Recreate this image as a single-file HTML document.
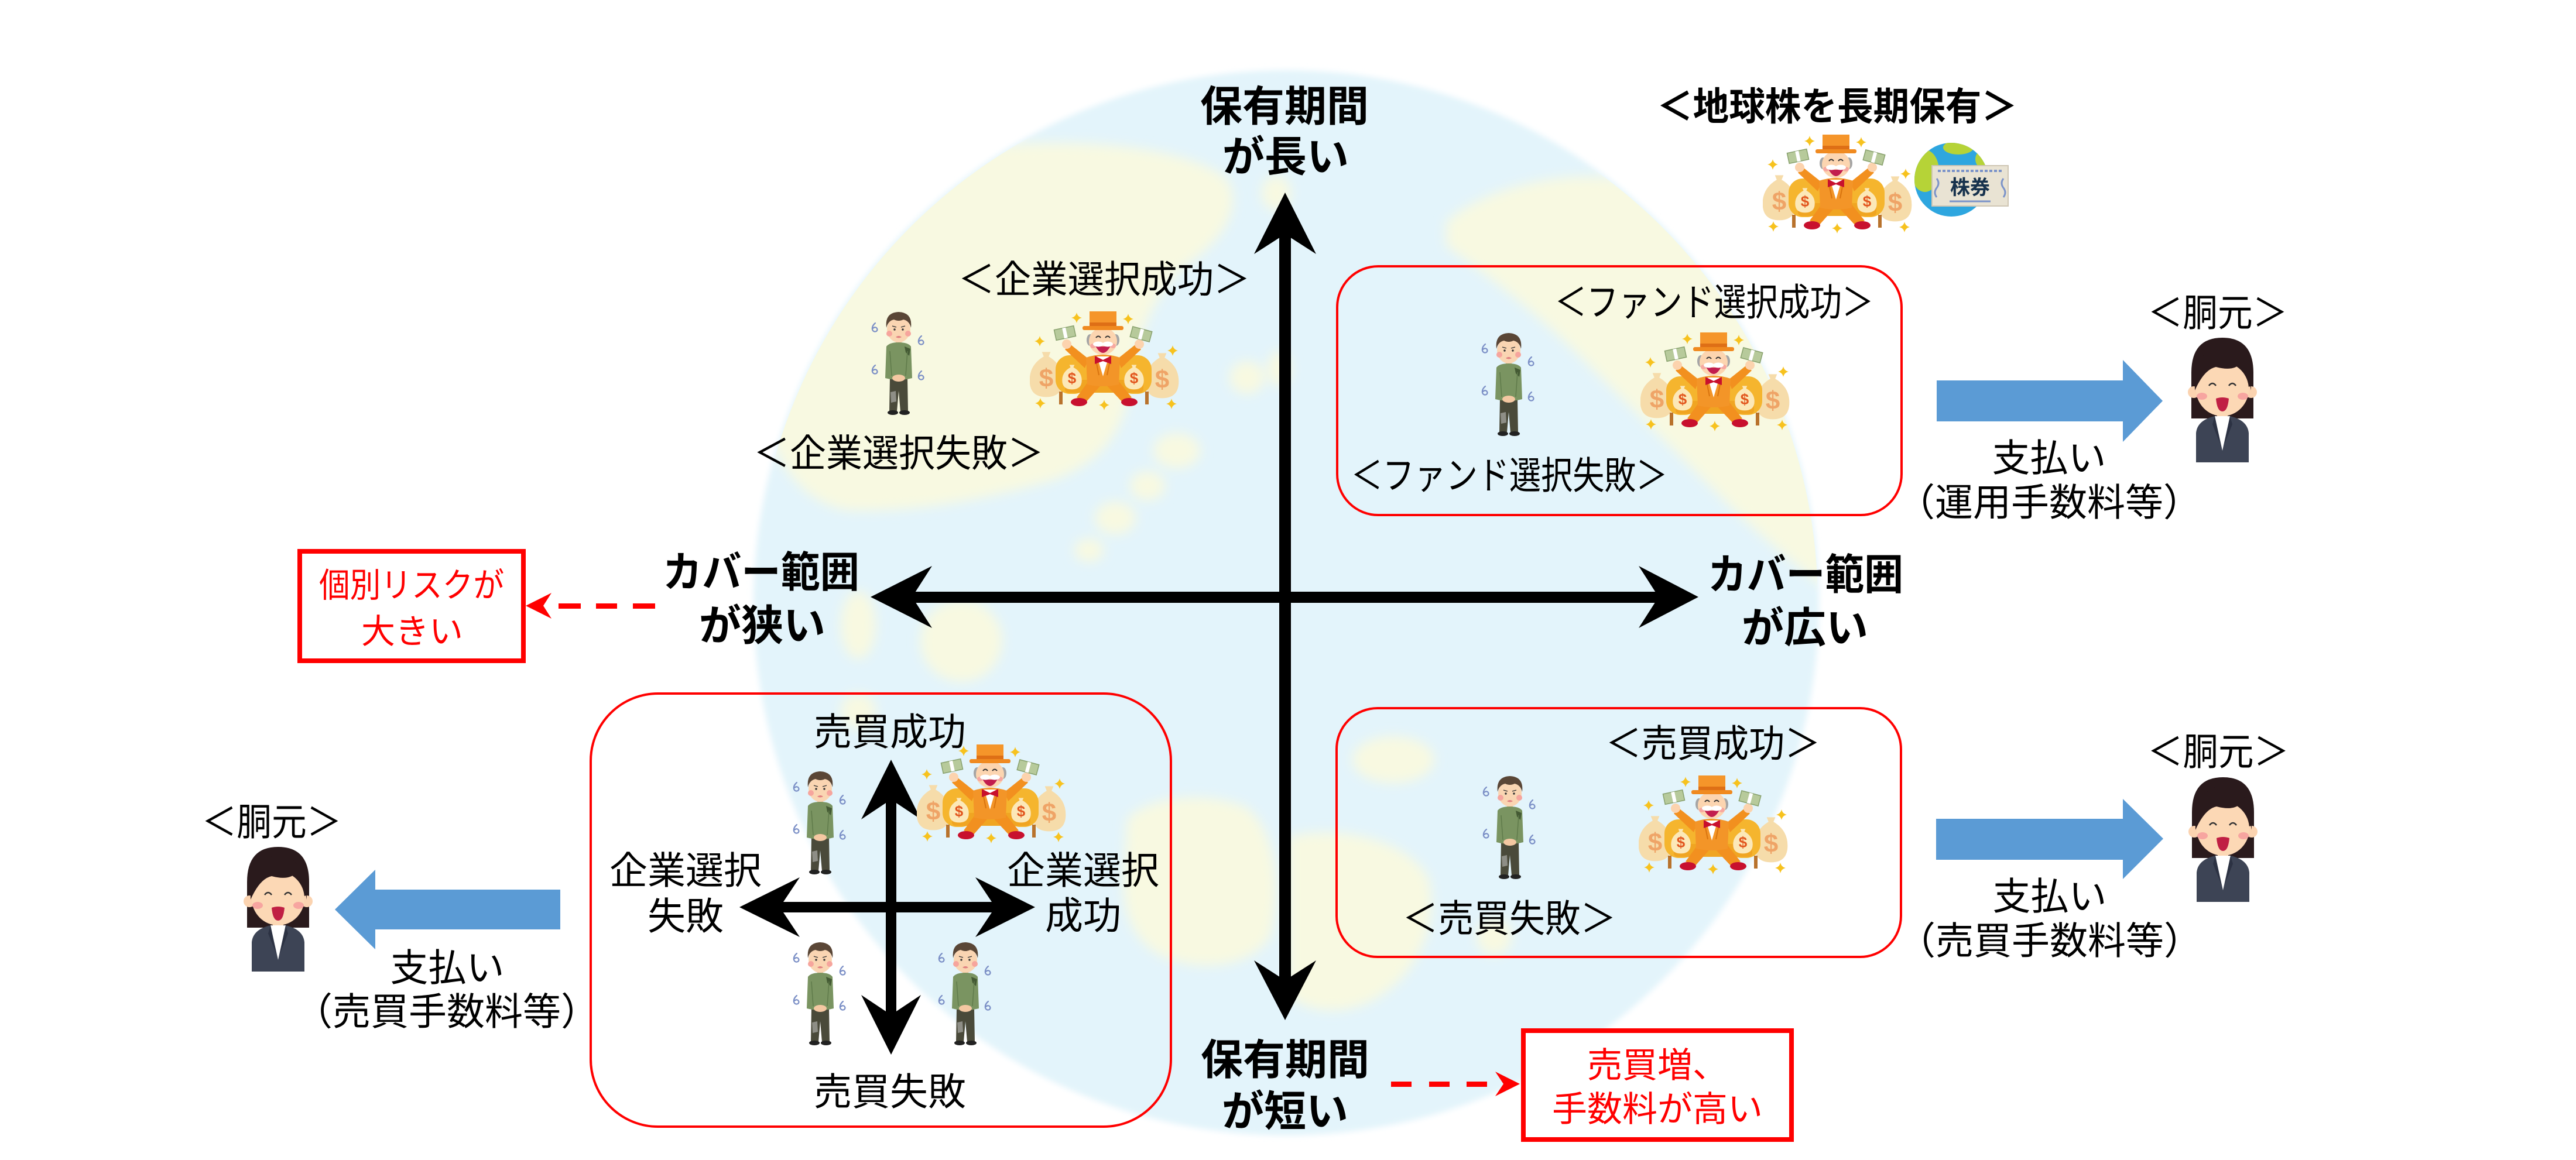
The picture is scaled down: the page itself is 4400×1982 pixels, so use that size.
<!DOCTYPE html>
<html><head><meta charset="utf-8"><style>
html,body{margin:0;padding:0;background:#fff;}
svg{display:block;}
.b{font-family:"Liberation Sans","Noto Sans CJK JP",sans-serif;font-weight:700;}
.r{font-family:"Liberation Sans","Noto Sans CJK JP",sans-serif;font-weight:400;}
</style></head><body>
<svg xmlns="http://www.w3.org/2000/svg" xmlns:xlink="http://www.w3.org/1999/xlink" width="4400" height="1982" viewBox="0 0 4400 1982">
<defs>
  <filter id="soft" x="-5%" y="-5%" width="110%" height="110%"><feGaussianBlur stdDeviation="5"/></filter>
  <filter id="soft2" x="-10%" y="-10%" width="120%" height="120%"><feGaussianBlur stdDeviation="10"/></filter>
  <clipPath id="gclip"><circle cx="2197" cy="1030" r="908"/></clipPath>
  <clipPath id="iclip"><circle cx="3333" cy="307" r="63"/></clipPath>
  <path id="spk" d="M0,-9 Q1.6,-1.6 9,0 Q1.6,1.6 0,9 Q-1.6,1.6 -9,0 Q-1.6,-1.6 0,-9 Z" fill="#f7c21e"/>
  <path id="bag" d="M-7,-36 L7,-36 L4,-29 Q27,-16 27,8 Q27,34 0,34 Q-27,34 -27,8 Q-27,-16 -4,-29 Z"/>
  <path id="swl" d="M5,0 Q-1,5 0,11 Q2,16 7,14 Q10,11 7,8 Q4,6 1,9" fill="none" stroke="#7b8fc6" stroke-width="2.2" stroke-linecap="round"/>

  <symbol id="rich" viewBox="0 0 255 170">
    <g fill="#f6dcaa">
      <use href="#bag" transform="translate(28,110) scale(1.05,1.1)"/>
      <use href="#bag" transform="translate(226,112) scale(1.05,1.1)"/>
    </g>
    <text x="28" y="130" font-size="44" font-weight="700" fill="#efa467" text-anchor="middle" font-family="Liberation Sans, sans-serif">$</text>
    <text x="226" y="132" font-size="44" font-weight="700" fill="#efa467" text-anchor="middle" font-family="Liberation Sans, sans-serif">$</text>
    <rect x="44" y="76" width="56" height="66" rx="24" fill="#f5b52e"/>
    <rect x="152" y="76" width="56" height="66" rx="24" fill="#f5b52e"/>
    <rect x="60" y="118" width="134" height="22" rx="6" fill="#f0a522"/>
    <rect x="50" y="138" width="6" height="22" fill="#b8722c"/>
    <rect x="197" y="138" width="6" height="22" fill="#b8722c"/>
    <use href="#bag" transform="translate(72,114) scale(0.62,0.6)" fill="#fce8b8"/>
    <use href="#bag" transform="translate(178,114) scale(0.62,0.6)" fill="#fce8b8"/>
    <text x="72" y="124" font-size="26" font-weight="700" fill="#e2561e" text-anchor="middle" font-family="Liberation Sans, sans-serif">$</text>
    <text x="178" y="124" font-size="26" font-weight="700" fill="#e2561e" text-anchor="middle" font-family="Liberation Sans, sans-serif">$</text>
    <path d="M102,118 L126,122 L96,156 L80,148 Z" fill="#f2901f"/>
    <path d="M126,122 L150,118 L174,148 L158,156 Z" fill="#f2901f"/>
    <ellipse cx="84" cy="156" rx="14" ry="7" fill="#c8102e"/>
    <ellipse cx="170" cy="156" rx="14" ry="7" fill="#c8102e"/>
    <path d="M100,82 L70,58 L60,66 L94,98 Z" fill="#f2901f"/>
    <path d="M150,82 L180,58 L190,66 L156,98 Z" fill="#f2901f"/>
    <path d="M96,80 Q125,70 154,80 L152,126 Q125,132 98,126 Z" fill="#f39528"/>
    <path d="M112,80 L118,110 M138,80 L132,110" stroke="#d9740f" stroke-width="2" fill="none"/>
    <path d="M115,78 L135,78 L125,112 Z" fill="#fff"/>
    <path d="M111,77 L125,84 L139,77 L139,91 L125,86 L111,91 Z" fill="#c8102e"/>
    <circle cx="63" cy="57" r="8" fill="#fcd3ae"/>
    <circle cx="187" cy="57" r="8" fill="#fcd3ae"/>
    <g transform="rotate(-12 60 38)"><rect x="43" y="29" width="34" height="18" fill="#b7ca9b" stroke="#87a06c" stroke-width="1.5"/><rect x="57" y="29" width="6" height="18" fill="#fff"/></g>
    <g transform="rotate(15 190 40)"><rect x="173" y="31" width="34" height="18" fill="#b7ca9b" stroke="#87a06c" stroke-width="1.5"/><rect x="187" y="31" width="6" height="18" fill="#fff"/></g>
    <ellipse cx="103" cy="50" rx="6" ry="10" fill="#a5a5a5"/>
    <ellipse cx="147" cy="50" rx="6" ry="10" fill="#a5a5a5"/>
    <ellipse cx="125" cy="52" rx="24" ry="23" fill="#fcd5b0"/>
    <ellipse cx="108" cy="60" rx="5" ry="4" fill="#f7a8a0"/>
    <ellipse cx="142" cy="60" rx="5" ry="4" fill="#f7a8a0"/>
    <path d="M113,46 Q117,41 121,46 M129,46 Q133,41 137,46" stroke="#333" stroke-width="2" fill="none"/>
    <path d="M111,58 Q125,86 139,58 Q125,64 111,58 Z" fill="#c21d4e"/>
    <ellipse cx="117" cy="57" rx="9" ry="4.5" fill="#fff"/>
    <ellipse cx="133" cy="57" rx="9" ry="4.5" fill="#fff"/>
    <rect x="102" y="1" width="46" height="27" fill="#f5952a"/>
    <rect x="102" y="20" width="46" height="6" fill="#de6f16"/>
    <rect x="90" y="26" width="70" height="7" rx="3" fill="#f08a20"/>
    <use href="#spk" x="80" y="12"/>
    <use href="#spk" x="168" y="14"/>
    <use href="#spk" x="17" y="52"/>
    <use href="#spk" x="244" y="68"/>
    <use href="#spk" x="18" y="158"/>
    <use href="#spk" x="127" y="161"/>
    <use href="#spk" x="242" y="159"/>
  </symbol>

  <symbol id="sad" viewBox="0 0 95 180">
    <use href="#swl" x="3" y="22"/>
    <use href="#swl" x="82" y="44"/>
    <use href="#swl" x="3" y="94"/>
    <use href="#swl" x="82" y="104"/>
    <path d="M33,116 L63,116 L64,173 L51,173 L48,138 L45,173 L32,173 Z" fill="#4a4a3a"/>
    <path d="M34,140 L43,138 L44,156 L35,158 Z" fill="#8e8e86"/>
    <ellipse cx="38" cy="175" rx="9" ry="4" fill="#222"/>
    <ellipse cx="58" cy="175" rx="9" ry="4" fill="#222"/>
    <rect x="43" y="50" width="10" height="8" fill="#f4c8a2"/>
    <path d="M27,62 Q32,55 48,55 Q64,55 69,62 L71,116 Q48,122 25,116 Z" fill="#7a9461"/>
    <path d="M58,62 L68,66 L66,78 L60,72 Z" fill="#445a34"/>
    <path d="M33,70 L36,112 M63,70 L60,112" stroke="#5f7a4a" stroke-width="1.5" fill="none"/>
    <ellipse cx="48" cy="116" rx="11" ry="6" fill="#f4c8a2"/>
    <ellipse cx="48" cy="33" rx="20" ry="22" fill="#fad5b2"/>
    <path d="M27,30 Q24,4 48,3 Q72,4 69,30 Q66,18 56,16 Q48,20 40,16 Q30,18 27,30 Z" fill="#5a4636"/>
    <circle cx="32" cy="40" r="5" fill="#f6a59d"/>
    <circle cx="64" cy="40" r="5" fill="#f6a59d"/>
    <circle cx="41" cy="33" r="1.7" fill="#333"/>
    <circle cx="55" cy="33" r="1.7" fill="#333"/>
    <path d="M37,27 L44,29 M59,27 L52,29" stroke="#333" stroke-width="1.4"/>
    <path d="M43,46 Q48,42 53,46 Q48,49 43,46 Z" fill="#e08080"/>
  </symbol>

  <symbol id="woman" viewBox="0 0 122 215">
    <path d="M8,140 L8,62 Q8,2 61,2 Q114,2 114,62 L114,140 Z" fill="#2a1a1c"/>
    <path d="M16,215 L16,165 Q18,143 48,136 L61,150 L74,136 Q104,143 106,165 L106,215 Z" fill="#3d4455"/>
    <rect x="52" y="124" width="18" height="16" fill="#f7cba6"/>
    <path d="M48,136 L74,136 L61,195 Z" fill="#fff"/>
    <path d="M48,136 L58,185 L44,150 Z M74,136 L64,185 L78,150 Z" fill="#2c3243"/>
    <circle cx="12" cy="95" r="10" fill="#fbd3b0"/>
    <circle cx="110" cy="95" r="10" fill="#fbd3b0"/>
    <ellipse cx="61" cy="90" rx="45" ry="46" fill="#fcd8b5"/>
    <path d="M14,92 Q12,22 61,16 Q110,20 110,92 Q104,60 92,46 Q80,60 50,52 Q30,56 14,92 Z" fill="#2a1a1c"/>
    <ellipse cx="26" cy="102" rx="9" ry="6" fill="#f7a5a0"/>
    <ellipse cx="96" cy="102" rx="9" ry="6" fill="#f7a5a0"/>
    <path d="M38,84 Q44,76 50,84 M72,84 Q78,76 84,84" stroke="#333" stroke-width="2.5" fill="none"/>
    <path d="M50,106 Q61,102 72,106 Q70,128 61,128 Q52,128 50,106 Z" fill="#c01f44"/>
  </symbol>
</defs>

<!-- Globe background -->
<circle cx="2197" cy="1030" r="910" fill="#e3f4fb" filter="url(#soft)"/>
<g clip-path="url(#gclip)">
  <g filter="url(#soft2)" fill="#f8f9e1">
    <path d="M1420,360 C1500,300 1620,250 1760,245 C1900,240 2040,260 2095,305 C2125,350 2090,410 2030,450 C1970,500 1940,580 1930,660 C1920,740 1880,790 1800,820 C1680,855 1560,875 1450,872 C1370,860 1320,790 1300,690 C1300,560 1350,430 1420,360 Z"/>
    <ellipse cx="2010" cy="770" rx="40" ry="30"/>
    <ellipse cx="1960" cy="830" rx="30" ry="25"/>
    <ellipse cx="1905" cy="885" rx="35" ry="28"/>
    <ellipse cx="1860" cy="940" rx="25" ry="20"/>
    <ellipse cx="2130" cy="645" rx="30" ry="28"/>
    <ellipse cx="2180" cy="330" rx="25" ry="30"/>
    <ellipse cx="2185" cy="630" rx="20" ry="30"/>
    <path d="M2470,380 C2520,330 2650,290 2760,305 C2880,330 2990,430 3060,570 C3120,700 3140,900 3110,1000 C3050,950 2990,900 2950,860 C2870,780 2780,690 2700,610 C2620,530 2540,470 2470,420 Z"/>
    <ellipse cx="1466" cy="1068" rx="30" ry="58"/>
    <ellipse cx="1642" cy="1095" rx="70" ry="70"/>
    <ellipse cx="1466" cy="1215" rx="30" ry="30"/>
    <path d="M1925,1400 C1960,1360 2060,1350 2130,1380 C2180,1420 2190,1520 2170,1600 C2140,1650 2060,1660 2000,1640 C1940,1620 1915,1560 1920,1500 Z"/>
    <ellipse cx="2380" cy="1298" rx="70" ry="40"/>
    <path d="M2200,1430 C2280,1410 2400,1430 2440,1500 C2460,1580 2420,1660 2360,1700 C2300,1740 2230,1730 2200,1700 Z"/>
    <ellipse cx="2552" cy="1600" rx="30" ry="32"/>
  </g>
</g>

<!-- Rounded red boxes -->
<rect x="2284" y="455" width="964" height="425" rx="70" fill="none" stroke="#ff0000" stroke-width="4"/>
<rect x="2283" y="1210" width="964" height="425" rx="70" fill="none" stroke="#ff0000" stroke-width="4"/>
<rect x="1009" y="1185" width="991" height="740" rx="115" fill="none" stroke="#ff0000" stroke-width="4"/>

<!-- Callout boxes -->
<rect x="512" y="942" width="382" height="187" fill="#fff" stroke="#ff0000" stroke-width="8"/>
<rect x="2602" y="1761" width="458" height="186" fill="#fff" stroke="#ff0000" stroke-width="8"/>

<!-- Main axes -->
<g fill="#000">
  <rect x="2185" y="395" width="20" height="1280"/>
  <polygon points="2195,329 2248,434 2195,400 2142,434"/>
  <polygon points="2195,1743 2248,1641 2195,1675 2142,1641"/>
  <rect x="1555" y="1011" width="1280" height="19"/>
  <polygon points="1487,1020 1592,967 1558,1020 1592,1073"/>
  <polygon points="2901,1020 2799,967 2833,1020 2799,1073"/>
  <!-- small cross -->
  <rect x="1513" y="1360" width="18" height="380"/>
  <rect x="1328" y="1541" width="380" height="18"/>
  <polygon points="1522,1298 1573,1400 1522,1366 1471,1400"/>
  <polygon points="1522,1802 1573,1700 1522,1734 1471,1700"/>
  <polygon points="1263,1550 1366,1499 1332,1550 1366,1601"/>
  <polygon points="1768,1550 1666,1499 1700,1550 1666,1601"/>
</g>

<!-- Red dashed arrows -->
<g fill="#ff0000">
  <rect x="954" y="1031" width="38" height="9"/>
  <rect x="1018" y="1031" width="36" height="9"/>
  <rect x="1081" y="1031" width="38" height="9"/>
  <polygon points="898,1035 942,1013 928,1035 942,1057"/>
  <rect x="2376" y="1848" width="35" height="9"/>
  <rect x="2441" y="1848" width="35" height="9"/>
  <rect x="2505" y="1848" width="35" height="9"/>
  <polygon points="2596,1852 2554,1831 2568,1852 2554,1873"/>
</g>

<!-- Blue arrows -->
<g fill="#5b9bd5">
  <polygon points="3308,650 3626,650 3626,615 3694,685 3626,755 3626,720 3308,720"/>
  <polygon points="3307,1399 3626,1399 3626,1365 3695,1433 3626,1502 3626,1469 3307,1469"/>
  <polygon points="957,1520 641,1520 641,1486 572,1554 641,1622 641,1588 957,1588"/>
</g>

<!-- Illustrations -->
<use href="#rich" x="3011" y="229" width="255" height="170"/>
<use href="#rich" x="1759" y="531" width="255" height="170"/>
<use href="#rich" x="2802" y="567" width="255" height="170"/>
<use href="#rich" x="1566" y="1271" width="255" height="170"/>
<use href="#rich" x="2799" y="1324" width="255" height="170"/>

<use href="#sad" x="1487" y="530" width="95" height="180"/>
<use href="#sad" x="2529" y="566" width="95" height="180"/>
<use href="#sad" x="1353" y="1315" width="95" height="180"/>
<use href="#sad" x="1353" y="1607" width="95" height="180"/>
<use href="#sad" x="1601" y="1607" width="95" height="180"/>
<use href="#sad" x="2531" y="1323" width="95" height="180"/>

<use href="#woman" x="3735" y="575" width="122" height="215"/>
<use href="#woman" x="3736" y="1326" width="122" height="215"/>
<use href="#woman" x="414" y="1445" width="122" height="215"/>

<!-- Globe + stock certificate icon -->
<circle cx="3333" cy="307" r="63" fill="#2ea6df"/>
<g clip-path="url(#iclip)" fill="#b6d337">
  <ellipse cx="3288" cy="292" rx="24" ry="36"/>
  <ellipse cx="3345" cy="252" rx="26" ry="12"/>
  <ellipse cx="3392" cy="272" rx="18" ry="18"/>
</g>
<rect x="3300" y="283" width="130" height="69" fill="#e9e3d3" stroke="#cfc6b4" stroke-width="2"/>
<line x1="3310" y1="292" x2="3420" y2="292" stroke="#7b93c9" stroke-width="4" stroke-dasharray="5 3"/>
<line x1="3330" y1="344" x2="3400" y2="344" stroke="#7b93c9" stroke-width="3"/>
<path d="M3308,305 q6,8 0,16 q-6,8 0,16 M3422,305 q-6,8 0,16 q6,8 0,16" stroke="#7b93c9" stroke-width="3" fill="none"/>
<text x="3365" y="332" class="b" font-size="34" fill="#17324d" text-anchor="middle">株券</text>

<!-- Bold axis labels -->
<g class="b" font-size="72" fill="#000" text-anchor="middle">
  <text x="2194" y="207">保有期間</text>
  <text x="2196" y="293">が長い</text>
  <text x="1300" y="1003" textLength="336" lengthAdjust="spacingAndGlyphs">カバー範囲</text>
  <text x="1302" y="1094">が狭い</text>
  <text x="3084" y="1007" textLength="334" lengthAdjust="spacingAndGlyphs">カバー範囲</text>
  <text x="3083" y="1098">が広い</text>
  <text x="2195" y="1836">保有期間</text>
  <text x="2195" y="1924">が短い</text>
</g>
<text x="3138" y="205" class="b" font-size="66" fill="#000" text-anchor="middle" textLength="616" lengthAdjust="spacingAndGlyphs">＜地球株を長期保有＞</text>

<!-- Regular labels -->
<g class="r" font-size="65" fill="#000" text-anchor="middle">
  <text x="1886" y="500" textLength="499" lengthAdjust="spacingAndGlyphs">＜企業選択成功＞</text>
  <text x="1535" y="797" textLength="496" lengthAdjust="spacingAndGlyphs">＜企業選択失敗＞</text>
  <text x="2928" y="539" textLength="545" lengthAdjust="spacingAndGlyphs">＜ファンド選択成功＞</text>
  <text x="2578" y="835" textLength="541" lengthAdjust="spacingAndGlyphs">＜ファンド選択失敗＞</text>
  <text x="3788" y="557" textLength="239" lengthAdjust="spacingAndGlyphs">＜胴元＞</text>
  <text x="3500" y="805">支払い</text>
  <text x="3500" y="881">（運用手数料等）</text>
  <text x="1520" y="1273">売買成功</text>
  <text x="1171" y="1510">企業選択</text>
  <text x="1171" y="1588">失敗</text>
  <text x="1850" y="1510">企業選択</text>
  <text x="1850" y="1587">成功</text>
  <text x="1520" y="1888">売買失敗</text>
  <text x="464" y="1427" textLength="239" lengthAdjust="spacingAndGlyphs">＜胴元＞</text>
  <text x="764" y="1676">支払い</text>
  <text x="763" y="1751">（売買手数料等）</text>
  <text x="2926" y="1293" textLength="367" lengthAdjust="spacingAndGlyphs">＜売買成功＞</text>
  <text x="2578" y="1592" textLength="365" lengthAdjust="spacingAndGlyphs">＜売買失敗＞</text>
  <text x="3789" y="1307" textLength="242" lengthAdjust="spacingAndGlyphs">＜胴元＞</text>
  <text x="3501" y="1554">支払い</text>
  <text x="3501" y="1630">（売買手数料等）</text>
</g>

<!-- Red callout text -->
<g class="r" fill="#ff0000" text-anchor="middle">
  <text x="703" y="1020" font-size="58" textLength="316" lengthAdjust="spacingAndGlyphs">個別リスクが</text>
  <text x="704" y="1099" font-size="58">大きい</text>
  <text x="2831" y="1841" font-size="60">売買増、</text>
  <text x="2831" y="1916" font-size="60">手数料が高い</text>
</g>
</svg>
</body></html>
